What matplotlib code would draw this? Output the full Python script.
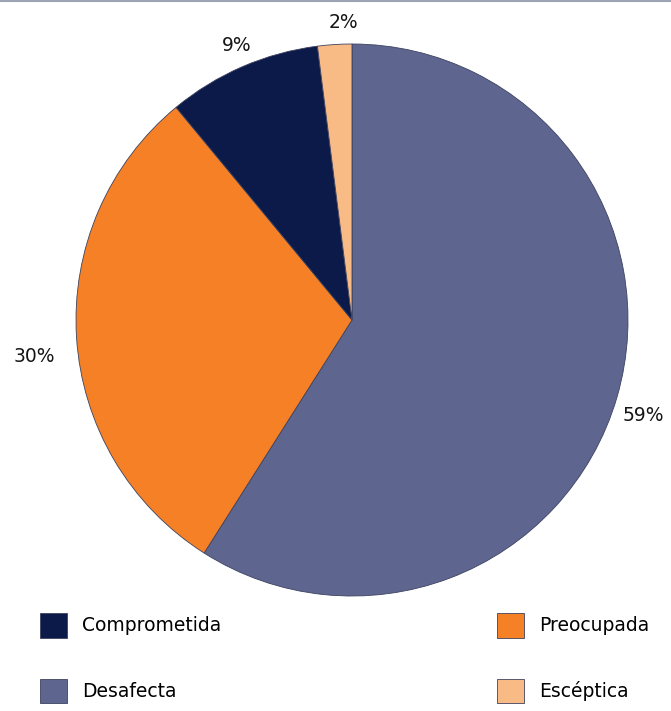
import numpy as np
import matplotlib.pyplot as plt

# Data
categories = ["Desafecta", "Preocupada", "Comprometida", "Escéptica"]
shares = [59, 30, 9, 2]
colors = ["#5e6690", "#f58025", "#0b1a48", "#f9bb86"]

# label placement tweaks (radius factor, angle shift in degrees)
label_dist = [1.11, 1.16, 1.08, 1.08]
label_shift = [-1.9, 3.0, -0.7, -1.9]

plt.rcParams['font.family'] = ['DejaVu Sans']

fig = plt.figure(figsize=(6.71, 7.11), dpi=100)
ax = fig.add_axes([0, 0, 1, 1])

# Pie centred at pixel (352, 320), radius 276
cx, cy, r = 352, 711 - 320, 276
wedges, texts = ax.pie(
    shares, colors=colors, startangle=90, counterclock=False,
    center=(cx, cy), radius=r,
    wedgeprops=dict(edgecolor='#3d4260', linewidth=0.6))
ax.set_xlim(0, 671)
ax.set_ylim(0, 711)
ax.set_aspect('equal')
ax.axis('off')

# percentage labels outside the wedges
for w, v, d, s in zip(wedges, shares, label_dist, label_shift):
    ang = np.deg2rad((w.theta1 + w.theta2) / 2 + s)
    ax.text(cx + d * r * np.cos(ang), cy + d * r * np.sin(ang), f"{v}%",
            ha='center', va='center', fontsize=13.5, color='#151515')

# Thin grey line at the top
ax.axhline(710, color='#9ea3b3', linewidth=1.5)

# Legend in two columns
lab = dict(zip(categories, wedges))
common = dict(frameon=False, fontsize=13.5, handlelength=1.44, handleheight=1.65,
              handletextpad=0.8, labelspacing=2.19, borderpad=0, borderaxespad=0)
leg1 = ax.legend([lab["Comprometida"], lab["Desafecta"]], ["Comprometida", "Desafecta"],
                 loc='upper left', bbox_to_anchor=(40 / 671, 1 - 613 / 711), **common)
ax.add_artist(leg1)
ax.legend([lab["Preocupada"], lab["Escéptica"]], ["Preocupada", "Escéptica"],
          loc='upper left', bbox_to_anchor=(497 / 671, 1 - 613 / 711), **common)

plt.savefig("out.png", dpi=100)
